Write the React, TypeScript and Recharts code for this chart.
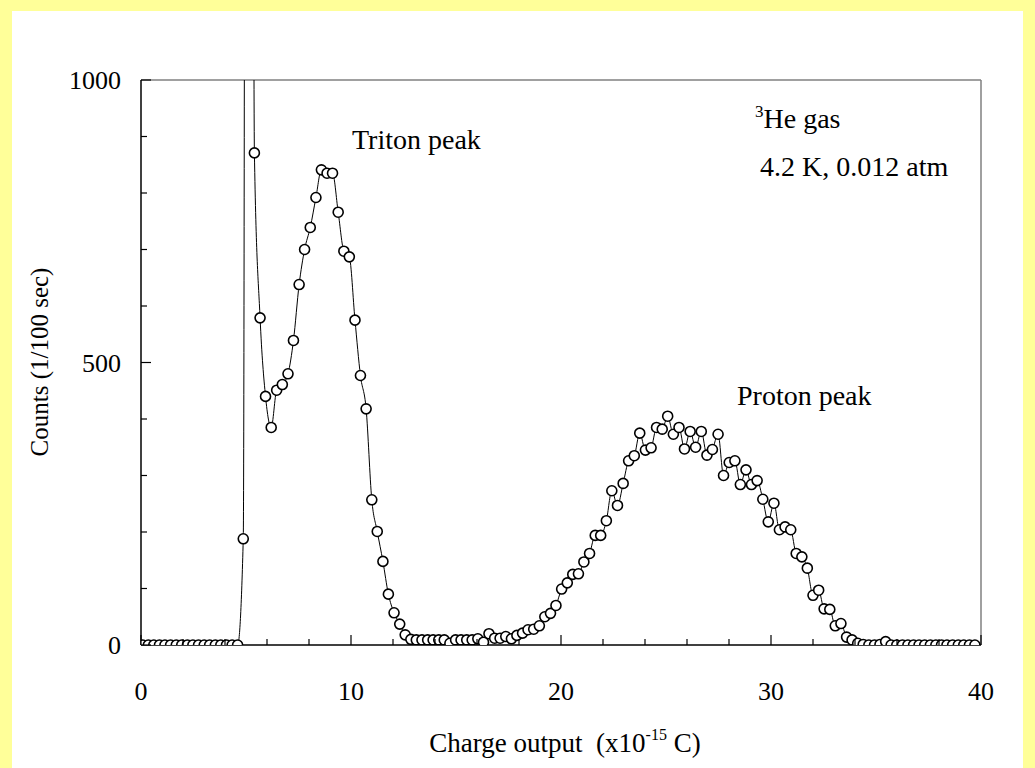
import { Line, LineChart, ReferenceLine, XAxis, YAxis } from "recharts";

// Pulse-height spectrum of a 3He gas detector: open circles joined by a smooth line.
// The channel just above 5 goes far off scale and is clipped at the top of the frame.

const CHARGE = [
  0.08, 0.35, 0.61, 0.88, 1.14, 1.41, 1.68, 1.94, 2.21, 2.47,
  2.74, 3.01, 3.27, 3.54, 3.8, 4.07, 4.34, 4.6, 4.87, 5.13,
  5.4, 5.67, 5.93, 6.2, 6.46, 6.73, 7.0, 7.26, 7.53, 7.79,
  8.06, 8.33, 8.59, 8.86, 9.12, 9.39, 9.66, 9.92, 10.19, 10.45,
  10.72, 10.99, 11.25, 11.52, 11.78, 12.05, 12.32, 12.58, 12.85, 13.11,
  13.38, 13.65, 13.91, 14.18, 14.44, 14.71, 14.98, 15.24, 15.51, 15.77,
  16.04, 16.31, 16.57, 16.84, 17.1, 17.37, 17.64, 17.9, 18.17, 18.43,
  18.7, 18.97, 19.23, 19.5, 19.76, 20.03, 20.3, 20.56, 20.83, 21.09,
  21.36, 21.63, 21.89, 22.16, 22.42, 22.69, 22.96, 23.22, 23.49, 23.75,
  24.02, 24.29, 24.55, 24.82, 25.08, 25.35, 25.62, 25.88, 26.15, 26.41,
  26.68, 26.95, 27.21, 27.48, 27.74, 28.01, 28.28, 28.54, 28.81, 29.07,
  29.34, 29.61, 29.87, 30.14, 30.4, 30.67, 30.94, 31.2, 31.47, 31.73,
  32.0, 32.27, 32.53, 32.8, 33.06, 33.33, 33.6, 33.86, 34.13, 34.39,
  34.66, 34.93, 35.19, 35.46, 35.72, 35.99, 36.26, 36.52, 36.79, 37.05,
  37.32, 37.59, 37.85, 38.12, 38.38, 38.65, 38.92, 39.18, 39.45, 39.71,
];

const COUNTS = [
  0, 0, 0, 0, 0, 0, 0, 0, 0, 0,
  0, 0, 0, 0, 0, 0, 0, 0, 188, 8000,
  871, 579, 440, 385, 451, 461, 480, 539, 638, 700,
  739, 792, 841, 835, 835, 766, 697, 687, 575, 477,
  418, 257, 201, 148, 90, 57, 37, 18, 10, 9,
  9, 9, 9, 9, 9, 3, 9, 9, 9, 9,
  11, 5, 20, 12, 12, 15, 11, 17, 21, 27,
  28, 34, 50, 56, 70, 99, 110, 125, 126, 147,
  162, 194, 194, 220, 273, 247, 286, 326, 335, 375,
  345, 349, 385, 382, 405, 373, 385, 347, 378, 350,
  378, 336, 346, 373, 300, 323, 326, 284, 310, 284,
  291, 258, 218, 251, 204, 209, 204, 162, 156, 136,
  88, 97, 64, 63, 34, 38, 14, 9, 3, 1,
  0, 0, 1, 6, 0, 0, 0, 0, 0, 0,
  0, 0, 0, 0, 0, 0, 0, 0, 0, 0,
];

const X_TICKS = [0, 2, 4, 6, 8, 10, 12, 14, 16, 18, 20, 22, 24, 26, 28, 30, 32, 34, 36, 38, 40];
const X_LABELLED = [0, 10, 20, 30, 40];
const Y_TICKS = [0, 100, 200, 300, 400, 500, 600, 700, 800, 900, 1000];
const Y_LABELLED = [0, 500, 1000];

const FONT = '"Liberation Serif", "Times New Roman", Times, serif';
const FS = 25;
const NOTE_FS = 28;

const data = CHARGE.map((x, i) => ({ x, y: COUNTS[i] }));

function XTick({ x, y, payload }: any) {
  const major = X_LABELLED.includes(payload.value);
  return (
    <g>
      <line x1={x} y1={y} x2={x} y2={y - (major ? 10 : 6)} stroke="#000" strokeWidth={1.2} />
      {major && (
        <text x={x} y={y + 55} textAnchor="middle" fontSize={26} fontFamily={FONT} fill="#000">
          {payload.value}
        </text>
      )}
    </g>
  );
}

function YTick({ x, y, payload }: any) {
  const major = Y_LABELLED.includes(payload.value);
  return (
    <g>
      <line x1={x} y1={y} x2={x + (major ? 10 : 6)} y2={y} stroke="#000" strokeWidth={1.2} />
      {major && (
        <text x={x - 20} y={y + 9} textAnchor="end" fontSize={26} fontFamily={FONT} fill="#000">
          {payload.value}
        </text>
      )}
    </g>
  );
}

export default function App() {
  return (
    <div style={{ position: "absolute", left: 0, top: 0, width: 1035, height: 768, background: "#FFFF99" }}>
      <div style={{ position: "absolute", left: 12, top: 11, width: 1011, height: 757, background: "#fff" }} />
      <div style={{ position: "absolute", left: 0, top: 0 }}>
        <LineChart width={1035} height={768} data={data} margin={{ top: 80, right: 54, bottom: 0, left: 0 }}>
          <XAxis
            dataKey="x"
            type="number"
            domain={[0, 40]}
            ticks={X_TICKS}
            interval={0}
            height={123}
            tickLine={false}
            tickSize={0}
            tickMargin={0}
            tick={<XTick />}
            axisLine={{ stroke: "#000", strokeWidth: 1.5 }}
            allowDataOverflow
          />
          <YAxis
            type="number"
            domain={[0, 1000]}
            ticks={Y_TICKS}
            interval={0}
            width={141}
            tickLine={false}
            tickSize={0}
            tickMargin={0}
            tick={<YTick />}
            axisLine={{ stroke: "#000", strokeWidth: 1.5 }}
            allowDataOverflow
          />
          <ReferenceLine y={1000} stroke="#808080" strokeWidth={1.5} />
          <ReferenceLine x={40} stroke="#808080" strokeWidth={1.5} />
          <Line
            dataKey="y"
            type="monotone"
            stroke="#000"
            strokeWidth={1}
            dot={{ r: 5, fill: "#fff", stroke: "#000", strokeWidth: 1.6 }}
            activeDot={false}
            isAnimationActive={false}
          />
        </LineChart>
      </div>
      <svg
        width={1035}
        height={768}
        style={{ position: "absolute", left: 0, top: 0, pointerEvents: "none" }}
        fontFamily={FONT}
        fill="#000"
      >
        <text x={352} y={149} fontSize={NOTE_FS}>Triton peak</text>
        <text x={737} y={405} fontSize={NOTE_FS}>Proton peak</text>
        <text x={755} y={128} fontSize={NOTE_FS}>
          <tspan fontSize={17} dy={-11}>3</tspan>
          <tspan dy={11}>He gas</tspan>
        </text>
        <text x={760} y={176} fontSize={NOTE_FS}>4.2 K, 0.012 atm</text>
        <text x={40} y={362} fontSize={FS} textAnchor="middle" transform="rotate(-90 40 362)" dy={8}>
          Counts (1/100 sec)
        </text>
        <text x={565} y={752} fontSize={27} textAnchor="middle" style={{ whiteSpace: "pre" }}>
          {"Charge output  (x10"}
          <tspan fontSize={16} dy={-12}>-15</tspan>
          <tspan dy={12}>{" C)"}</tspan>
        </text>
      </svg>
    </div>
  );
}
